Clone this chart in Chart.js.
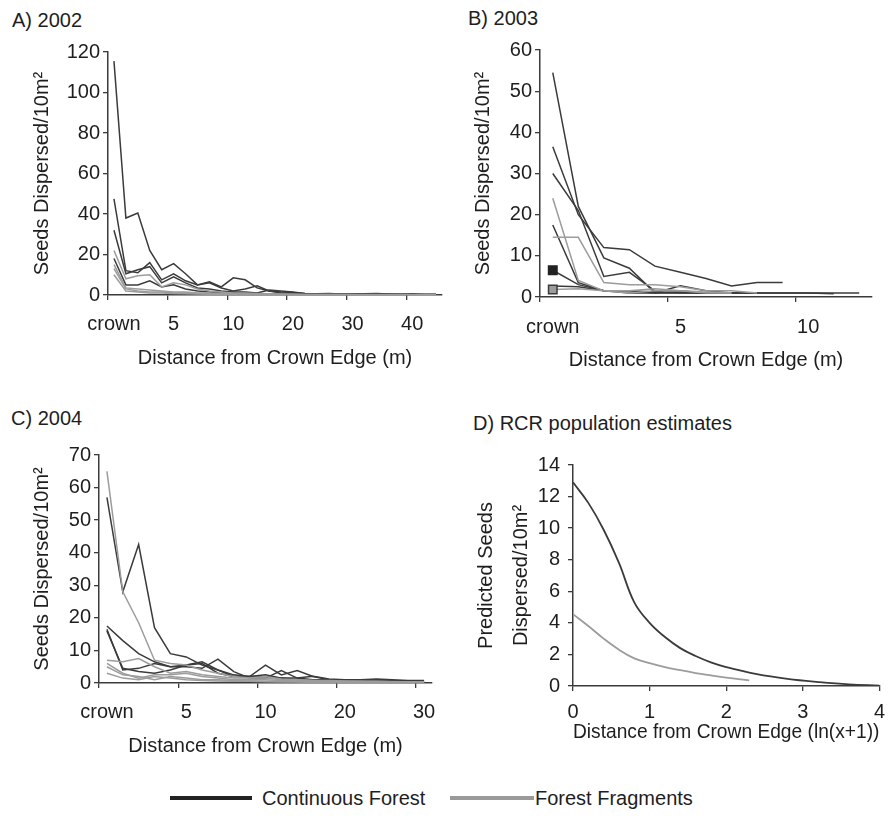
<!DOCTYPE html>
<html>
<head>
<meta charset="utf-8">
<script src="https://cdn.jsdelivr.net/npm/chart.js@4.4.1/dist/chart.umd.min.js"></script>
<style>
  body { margin: 0; background: #fff; }
  #fig { position: relative; width: 894px; height: 833px; font-family: "Liberation Sans", Arial, sans-serif; color: #1e1e1e; }
  canvas { position: absolute; }
  .ptitle { position: absolute; font-size: 20px; line-height: 24px; white-space: nowrap; }
  .legline { position: absolute; height: 4px; }
  .legtext { position: absolute; font-size: 20px; line-height: 24px; white-space: nowrap; }
</style>
</head>
<body>
<div id="fig">
  <div class="ptitle" style="left:12px; top:8px;">A) 2002</div>
  <div class="ptitle" style="left:468px; top:6px;">B) 2003</div>
  <div class="ptitle" style="left:11px; top:406px;">C) 2004</div>
  <div class="ptitle" style="left:473px; top:411px;">D) RCR population estimates</div>

  <canvas id="cA" width="450" height="345" style="left:0; top:30px;"></canvas>
  <canvas id="cB" width="444" height="345" style="left:450px; top:30px;"></canvas>
  <canvas id="cC" width="450" height="345" style="left:0; top:430px;"></canvas>
  <canvas id="cD" width="444" height="345" style="left:450px; top:430px;"></canvas>

  <div class="legline" style="left:170px; top:796px; width:82px; background:#222;"></div>
  <div class="legtext" style="left:262px; top:786px;">Continuous Forest</div>
  <div class="legline" style="left:450px; top:796px; width:84px; background:#9a9a9a;"></div>
  <div class="legtext" style="left:535px; top:786px;">Forest Fragments</div>
</div>

<script>
const DARK = '#3b3b3b';
const GRAY = '#9c9c9c';
const TEXT = '#1e1e1e';
const FONT = '"Liberation Sans", Arial, sans-serif';

// A) 2002 -- distance categories and shown tick labels
const distA = ['crown','1','2','3','4','5','6','7','8','9','10','12','14','16','18','20',
               '22','24','26','28','30','32','34','36','38','40','42','44'];
const showA = ['crown','5','10','20','30','40'];
const contA1 = [115.5, 38, 40.5, 22, 12.5, 15.5, 10.5, 5, 6.5, 4, 8.5, 7.5, 3.5, 2, 1.5, 1.2, 0.8, 0.6, 0.8, 0.5, 0.5, 0.6, 0.8, 0.5, 0.4, 0.6, 0.3, 0.3];
const contA2 = [47.5, 12, 11, 16, 7.5, 10.5, 7, 5, 6, 3.5, 2, 3, 4.5, 2, 1, 0.8, 0.5, 0.4, 0.3, 0.5, 0.3, 0.4, 0.3, 0.5, 0.4, 0.3, 0.3, 0.2];
const contA3 = [32, 10.5, 12.5, 14, 6, 9, 6, 3.5, 3, 2, 1.5, 1.5, 1, 2.5, 2, 1.5, 0.8, 0.5, 0.4, 0.3, 0.3, 0.2, 0.3, 0.2, 0.3, 0.2, 0.2, 0.2];
const contA4 = [18, 5, 5, 7, 4, 5, 3, 2, 1.5, 1, 1, 1, 0.8, 0.5, 0.6, 0.4, 0.3, 0.3, 0.2, 0.3, 0.2, 0.2, 0.3, 0.2, 0.2, 0.2, 0.2, 0.2];
const fragA1 = [22, 8, 9.5, 10, 4, 6, 5, 3, 2, 1.5, 1, 1, 0.8, 0.6, 0.5, 0.4, 0.3, 0.3, 0.2, 0.2, 0.2, 0.2, 0.2, 0.2, 0.2, 0.2, 0.2, 0.2];
const fragA2 = [15, 3.5, 3, 2.5, 2, 1.5, 1.5, 1, 1, 0.8, 0.5, 0.5, 0.4, 0.3, 0.3, 0.2, 0.2, 0.2, 0.2, 0.2, 0.1, 0.1, 0.1, 0.1, 0.1, 0.1, 0.1, 0.1];
const fragA3 = [13, 3, 2, 1.5, 1.5, 1, 1, 0.8, 0.6, 0.5, 0.4, 0.3, 0.3, 0.2, 0.2, 0.2, 0.1, 0.1, 0.1, 0.1, 0.1, 0.1, 0.1, 0.1, 0.1, 0.1, 0.1, 0.1];
const fragA4 = [10, 2, 1.5, 1, 1, 0.8, 0.6, 0.5, 0.4, 0.3, 0.3, 0.2, 0.2, 0.2, 0.1, 0.1, 0.1, 0.1, 0.1, 0.1, 0.1, 0.1, 0.1, 0.1, 0.1, 0.1, 0.1, 0.1];

// B) 2003
const distB = ['crown','1','2','3','4','5','6','7','8','9','10','11','12'];
const showB = ['crown','5','10'];
const contB1 = [54.5, 22, 9.5, 7, 1, 2.7, 1.5, 1, 1, 1, 1, 1, 1];
const contB2 = [36.5, 20, 12, 11.5, 7.5, 6, 4.5, 2.7, 3.5, 3.5, null, null, null];
const contB3 = [30, 21, 5, 6, 1.5, 1.5, 1, 1, 1, null, null, null, null];
const contB4 = [17.5, 3.5, 1.5, 1.5, 1, 1, 1, 1, 1, 1, 1, 0.8, null];
const contB5 = [6.5, 3, 1.5, 1, 1, 1.2, 1, 1, null, null, null, null, null];
const contB6 = [2.7, 2.5, 1.5, 1.5, 1.2, 1, 1, null, null, null, null, null, null];
const fragB1 = [24, 4, 1.5, 1, 1.5, 1.5, 1, 1, null, null, null, null, null];
const fragB2 = [14.5, 14.5, 3.5, 3, 3, 2.5, 1.5, 1.5, 1, null, null, null, null];
const fragB3 = [1.8, 2, 1.5, 1.5, 2, 1.5, 1.2, 1, null, null, null, null, null];

// C) 2004
const distC = ['crown','1','2','3','4','5','6','7','8','9','10','12','14','16','18','20',
               '22','24','26','28','30'];
const showC = ['crown','5','10','20','30'];
const contC1 = [57, 28, 42.5, 17, 9, 8, 5.5, 4, 2.5, 2, 2.5, 1.5, 1, 1, 1, 0.8, 0.5, 0.5, 0.5, 0.5, 0.5];
const contC2 = [17.5, 13, 9, 6.5, 5, 5.5, 6.5, 4, 2, 2, 5.5, 2.5, 3.8, 2, 1, 1, 0.8, 0.5, 0.5, 0.4, 0.4];
const contC3 = [16.5, 4, 4.5, 6, 5, 5, 4.5, 7.3, 3.5, 1.5, 1.5, 3.8, 1.5, 1, 0.8, 0.8, 0.6, 0.5, 0.5, 0.5, 0.4];
const contC4 = [16, 4.5, 3.5, 3, 4, 5.5, 6, 3, 2, 2, 2, 1.5, 1.5, 2.1, 1.2, 1, 1, 1.2, 1, 0.8, 0.8];
const fragC1 = [65, 28, 18.5, 7, 6, 5.5, 4, 3, 2, 1.5, 1.5, 1, 1, 0.8, 0.8, 0.6, 0.5, 0.5, 0.4, 0.4, 0.4];
const fragC2 = [7, 6.5, 7.5, 5, 3, 3.5, 2.5, 2, 1.5, 1.5, 2, 1.2, 1, 0.8, 0.6, 0.5, 0.5, 0.4, 0.4, 0.3, 0.3];
const fragC3 = [6, 3, 1.5, 2.5, 2.5, 3, 2, 1.5, 1, 1, 1, 0.8, 0.6, 0.5, 0.5, 0.4, 0.3, 0.3, 0.3, 0.3, 0.3];
const fragC4 = [5, 2.5, 2, 1, 2, 1.5, 1, 1, 0.8, 0.6, 0.5, 0.5, 0.4, 0.3, 0.3, 0.3, 0.2, 0.2, 0.2, 0.2, 0.2];
const fragC5 = [3, 1.5, 1, 2, 1.5, 1, 0.8, 0.6, 0.5, 0.5, 0.4, 0.3, 0.3, 0.2, 0.2, 0.2, 0.2, 0.2, 0.2, 0.2, 0.2];

// D) RCR model estimates, x = ln(distance + 1)
const lnDistD = [0, 0.2, 0.4, 0.6, 0.8, 1.0, 1.2, 1.4, 1.6, 1.8, 2.0, 2.4, 2.8, 3.2, 3.6, 4.0];
const contD = [12.9, 11.6, 9.9, 7.8, 5.3, 4.0, 3.1, 2.4, 1.9, 1.5, 1.2, 0.75, 0.45, 0.25, 0.1, 0.03];
const lnFragD = [0, 0.2, 0.4, 0.6, 0.8, 1.0, 1.2, 1.4, 1.6, 1.8, 2.0, 2.3];
const fragD = [4.55, 3.8, 3.0, 2.3, 1.75, 1.45, 1.2, 1.0, 0.82, 0.67, 0.53, 0.35];

const line = (data, color, extra) => Object.assign({
  data: data, borderColor: color, backgroundColor: color,
  borderWidth: 1.5, pointRadius: 0, tension: 0, spanGaps: false
}, extra || {});

function panel(id, o) {
  const showIdx = o.labels.map((l, i) => o.show.includes(l) ? i : -1).filter(i => i >= 0);
  return new Chart(document.getElementById(id), {
    type: 'line',
    data: { labels: o.labels, datasets: o.datasets },
    options: {
      responsive: false,
      animation: false,
      devicePixelRatio: 1,
      layout: { padding: { top: o.top, right: o.right, left: 0, bottom: 0 } },
      plugins: { legend: { display: false }, tooltip: { enabled: false } },
      scales: {
        x: {
          type: 'category',
          offset: true,
          afterFit: s => { s.height = o.xh; },
          grid: {
            offset: true, drawOnChartArea: false, tickLength: 5, lineWidth: 1.3,
            color: c => (c.index !== undefined && showIdx.includes(c.index)) ? DARK : 'rgba(0,0,0,0)'
          },
          border: { color: DARK, width: 1.5 },
          ticks: {
            autoSkip: false, maxRotation: 0, padding: o.xpad, color: TEXT,
            font: { family: FONT, size: 20 },
            callback: function (v, i) { return o.show.includes(o.labels[i]) ? o.labels[i] : ''; }
          },
          title: {
            display: true, text: 'Distance from Crown Edge (m)', color: TEXT,
            font: { family: FONT, size: 20 }, padding: { top: 0, bottom: o.xtp }
          }
        },
        y: {
          min: 0, max: o.ymax,
          afterFit: s => { s.width = o.yw; },
          grid: { drawOnChartArea: false, tickLength: 5, color: DARK, lineWidth: 1.3 },
          border: { color: DARK, width: 1.5 },
          ticks: { stepSize: o.step, padding: 3, color: TEXT, font: { family: FONT, size: 20 } },
          title: {
            display: true, text: 'Seeds Dispersed/10m\u00B2', color: TEXT,
            font: { family: FONT, size: 20 }, padding: { top: o.ytp, bottom: 0 }
          }
        }
      }
    }
  });
}

panel('cA', {
  labels: distA, show: showA, ymax: 120, step: 20,
  top: 22, right: 8, xh: 80, yw: 108, xpad: 12, xtp: 5, ytp: 30,
  datasets: [
    line(fragA4, GRAY), line(fragA3, GRAY), line(fragA2, GRAY), line(fragA1, GRAY),
    line(contA4, DARK), line(contA3, DARK), line(contA2, DARK), line(contA1, DARK)
  ]
});

const sq = (color, border) => ({
  pointStyle: 'rect', pointRadius: (c) => c.dataIndex === 0 ? 6 : 0,
  pointBackgroundColor: color, pointBorderColor: border, pointBorderWidth: 1.5
});

panel('cB', {
  labels: distB, show: showB, ymax: 60, step: 10,
  top: 20, right: 22, xh: 78, yw: 90, xpad: 13, xtp: 3, ytp: 21,
  datasets: [
    line(fragB3, GRAY, sq(GRAY, DARK)), line(fragB2, GRAY), line(fragB1, GRAY),
    line(contB6, DARK), line(contB5, DARK, sq('#222', '#222')), line(contB4, DARK),
    line(contB3, DARK), line(contB2, DARK), line(contB1, DARK)
  ]
});

panel('cC', {
  labels: distC, show: showC, ymax: 70, step: 10,
  top: 25, right: 18, xh: 92, yw: 99, xpad: 12, xtp: 17, ytp: 30,
  datasets: [
    line(fragC5, GRAY), line(fragC4, GRAY), line(fragC3, GRAY), line(fragC2, GRAY), line(fragC1, GRAY),
    line(contC4, DARK), line(contC3, DARK), line(contC2, DARK), line(contC1, DARK)
  ]
});

new Chart(document.getElementById('cD'), {
  type: 'line',
  data: {
    datasets: [
      line(lnDistD.map((x, i) => ({ x: x, y: contD[i] })), DARK, { tension: 0.4, borderWidth: 1.8 }),
      line(lnFragD.map((x, i) => ({ x: x, y: fragD[i] })), GRAY, { tension: 0.4, borderWidth: 1.8 })
    ]
  },
  options: {
    responsive: false,
    animation: false,
    devicePixelRatio: 1,
    layout: { padding: { top: 35, right: 11, left: 0, bottom: 0 } },
    plugins: { legend: { display: false }, tooltip: { enabled: false } },
    scales: {
      x: {
        type: 'linear', min: 0, max: 4,
        afterFit: s => { s.height = 89; },
        grid: { drawOnChartArea: false, tickLength: 5, color: DARK, lineWidth: 1.3 },
        border: { color: DARK, width: 1.5 },
        ticks: { stepSize: 1, padding: 9, maxRotation: 0, color: TEXT, font: { family: FONT, size: 20 } },
        title: {
          display: true, text: 'Distance from Crown Edge (ln(x+1))', color: TEXT,
          font: { family: FONT, size: 21 }, padding: { top: 0, bottom: 30 }
        }
      },
      y: {
        min: 0, max: 14,
        afterFit: s => { s.width = 123; },
        grid: { drawOnChartArea: false, tickLength: 5, color: DARK, lineWidth: 1.3 },
        border: { color: DARK, width: 1.5 },
        ticks: { stepSize: 2, padding: 8, color: TEXT, font: { family: FONT, size: 20 } },
        title: {
          display: true, text: ['Predicted Seeds', 'Dispersed/10m\u00B2'], color: TEXT,
          font: { family: FONT, size: 20, lineHeight: 1.75 }, padding: { top: 19, bottom: 0 }
        }
      }
    }
  }
});
</script>
</body>
</html>
